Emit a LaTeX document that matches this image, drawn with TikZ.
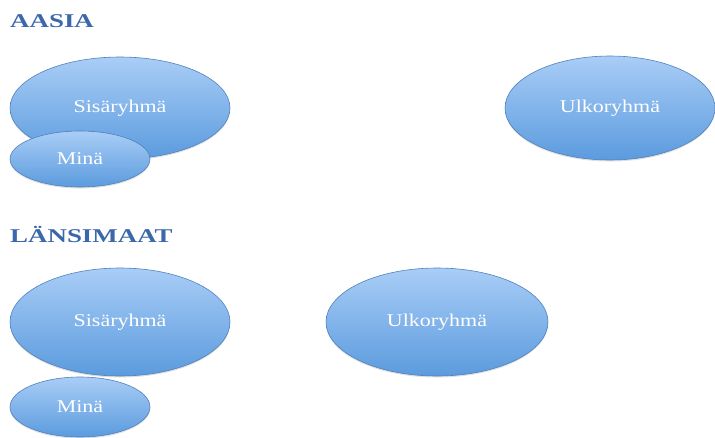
\documentclass[tikz,border=0pt]{standalone}
\usepackage{fontspec}
\setmainfont{Liberation Serif}[FakeStretch=1.22]
\newfontfamily\headfont{Liberation Serif}[FakeStretch=1.38]
\usetikzlibrary{shapes.geometric,shadows}
\definecolor{headblue}{HTML}{3B68AA}
\definecolor{toplight}{HTML}{A9CDF6}
\definecolor{botdark}{HTML}{5B9BDE}
\definecolor{rimblue}{HTML}{4F81BD}
\tikzset{
  grp/.style={ellipse, draw=rimblue, line width=0.6pt, top color=toplight,
    bottom color=botdark, inner sep=0pt, text=white,
    font=\fontsize{18}{20}\selectfont,
    drop shadow={shadow xshift=0pt, shadow yshift=-1.5pt, opacity=0.25}},
  heading/.style={anchor=west, text=headblue, inner sep=0pt,
    font=\headfont\fontsize{19.5}{21}\selectfont\bfseries}
}
\begin{document}
\begin{tikzpicture}[x=1pt, y=-1pt]
\useasboundingbox (0,0) rectangle (715,437);
% Aasia
\node[heading] (aasia) at (10,21) {AASIA};
\node[grp, minimum width=220pt, minimum height=102pt] (sis1) at (120,108) {Sisäryhmä};
\node[grp, minimum width=140pt, minimum height=56pt] (mina1) at (80,159) {Minä};
\node[grp, minimum width=210pt, minimum height=104pt] (ulko1) at (610,108) {Ulkoryhmä};
% Länsimaat
\node[heading] (lansi) at (10,234) {LÄNSIMAAT};
\node[grp, minimum width=220pt, minimum height=108pt] (sis2) at (120,322) {Sisäryhmä};
\node[grp, minimum width=222pt, minimum height=108pt] (ulko2) at (437,322) {Ulkoryhmä};
\node[grp, minimum width=140pt, minimum height=60pt] (mina2) at (80,407) {Minä};
\end{tikzpicture}
\end{document}
